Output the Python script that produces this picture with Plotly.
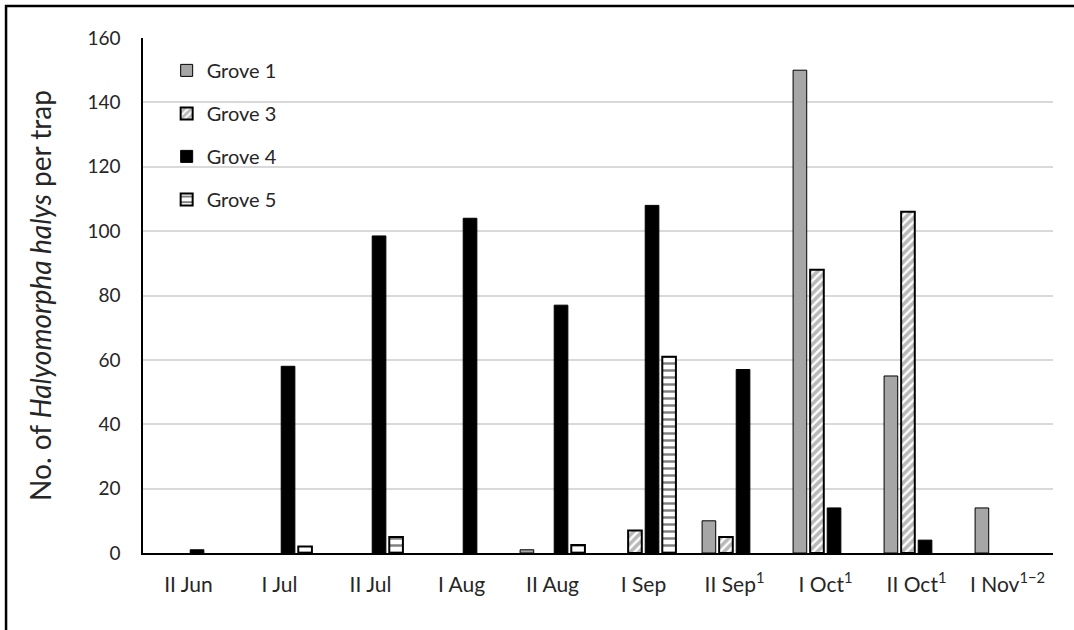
import plotly.graph_objects as go

categories = ["II Jun", "I Jul", "II Jul", "I Aug", "II Aug", "I Sep",
              "II Sep<sup>1</sup>", "I Oct<sup>1</sup>", "II Oct<sup>1</sup>", "I Nov<sup>1\u22122</sup>"]
grove1 = [None, None, None, None, 1, None, 10, 150, 55, 14]
grove3 = [None, None, None, None, None, 7, 5, 88, 106, None]
grove4 = [1, 58, 98.5, 104, 77, 108, 57, 14, 4, None]
grove5 = [None, 2, 5, None, 2.5, 61, None, None, None, None]
y_ticks = [0, 20, 40, 60, 80, 100, 120, 140, 160]

FONT = "Lato"
TXT = "#262626"

fig = go.Figure()
fig.add_trace(go.Bar(name="Grove 1", x=categories, y=grove1, legendgroup="g1",
                     marker=dict(color="#a6a6a6", line=dict(color="black", width=1))))
fig.add_trace(go.Bar(name="Grove 3", x=categories, y=grove3, legendgroup="g3",
                     marker=dict(color="white", line=dict(color="black", width=2),
                                 pattern=dict(shape="/", fgcolor="#737373", bgcolor="white",
                                              size=6, solidity=0.6))))
fig.add_trace(go.Bar(name="Grove 4", x=categories, y=grove4, legendgroup="g4",
                     marker=dict(color="black", line=dict(color="black", width=1))))
fig.add_trace(go.Bar(name="Grove 5", x=categories, y=grove5, legendgroup="g5",
                     marker=dict(color="white", line=dict(color="black", width=2),
                                 pattern=dict(shape="-", fgcolor="black", bgcolor="white",
                                              size=7, solidity=0.35))))

fig.update_layout(
    width=1074, height=630,
    margin=dict(l=143, r=21, t=38, b=77),
    paper_bgcolor="white", plot_bgcolor="white",
    barmode="group", bargap=0.25, bargroupgap=0.2,
    font=dict(family=FONT, size=19, color=TXT),
    showlegend=True,
    legend=dict(x=0.026, y=0.975, xanchor="left", yanchor="top",
                bgcolor="rgba(0,0,0,0)", font=dict(size=20, color=TXT),
                traceorder="grouped", tracegroupgap=14, itemwidth=30),
    xaxis=dict(showgrid=False, showline=True, linecolor="black", linewidth=1.5,
               ticks="", tickfont=dict(size=21, color=TXT), ticklabelstandoff=12),
    yaxis=dict(range=[0, 160], tickvals=y_ticks, showgrid=True, gridcolor="#d9d9d9",
               gridwidth=1.5, showline=True, linecolor="black", linewidth=1.5,
               ticks="", tickfont=dict(size=19, color=TXT), ticklabelstandoff=17,
               zeroline=False,
               title=dict(text="No. of <i>Halyomorpha halys</i> per trap",
                          font=dict(size=28, color=TXT), standoff=28)),
    shapes=[dict(type="rect", xref="paper", yref="paper",
                 x0=-0.1505, x1=1.2, y0=-0.3, y1=1.062,
                 line=dict(color="black", width=2.5), fillcolor="rgba(0,0,0,0)")],
)

fig.write_html("out.html", config={"displayModeBar": False},
               post_script="document.body.style.margin='0';")
